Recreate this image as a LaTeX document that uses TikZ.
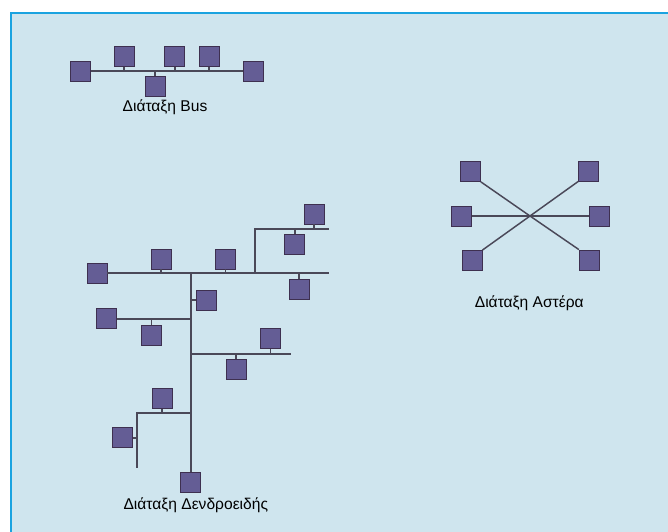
\documentclass[tikz,border=0pt]{standalone}
\usepackage{fontspec}
\setmainfont{Liberation Sans}
\definecolor{bg}{HTML}{CFE5EE}
\definecolor{frame}{HTML}{1AA3E0}
\definecolor{pcfill}{HTML}{645D95}
\definecolor{pcdraw}{HTML}{3E3050}
\definecolor{wire}{HTML}{4A4858}
\begin{document}
\begin{tikzpicture}[x=0.75pt,y=-0.75pt,
  pc/.style={rectangle,minimum size=15pt,inner sep=0pt,fill=pcfill,draw=pcdraw,line width=0.6pt},
  wireline/.style={draw=wire,line width=1.4pt},
  lbl/.style={font=\fontsize{11.7pt}{14pt}\selectfont,text=black}]
\useasboundingbox (0,0) rectangle (668,532);
\fill[bg] (10,12) rectangle (668,532);
\draw[frame,line width=1.9pt] (11,532) -- (11,13) -- (668,13);

% ---- Bus
\node[pc] (b1) at (80.7,71) {};
\node[pc] (b2) at (124,56.7) {};
\node[pc] (b3) at (155,86) {};
\node[pc] (b4) at (174.7,56.7) {};
\node[pc] (b5) at (209,56.7) {};
\node[pc] (b6) at (253,71) {};
\draw[wireline] (b1.east) -- (b6.west);
\foreach \n in {b2,b4,b5} \draw[wireline] (\n.south) -- (\n.south |- b1.east);
\draw[wireline] (b3.north) -- (b3.north |- b1.east);
\node[lbl] (lbus) at (165,107.7) {Διάταξη Bus};

% ---- Tree
\node[pc] (t1) at (97,273.3) {};
\node[pc] (tA) at (161,259) {};
\node[pc] (tB) at (225.5,259) {};
\node[pc] (tC) at (314.3,214) {};
\node[pc] (tD) at (294.7,244) {};
\node[pc] (tE) at (299.3,289) {};
\node[pc] (tF) at (206,300) {};
\node[pc] (tG) at (106.7,318.7) {};
\node[pc] (tH) at (151.5,335.3) {};
\node[pc] (tI) at (270.5,338.8) {};
\node[pc] (tJ) at (236.3,369.2) {};
\node[pc] (tK) at (162,398.7) {};
\node[pc] (tL) at (122.5,437.7) {};
\node[pc] (tBot) at (190.7,482) {};
\coordinate (mE) at (329.3,273.3);
\coordinate (uJ) at (255,273.3);
\coordinate (uC) at (255,229);
\coordinate (uE) at (329.3,229);
\coordinate (trT) at (190.7,273.3);
\coordinate (rJ) at (190.7,354.3);
\coordinate (rE) at (290.7,354.3);
\coordinate (lJ) at (190.7,413.3);
\coordinate (lC) at (137.3,413.3);
\coordinate (lB) at (137.3,468.3);
\draw[wireline] (t1.east) -- (mE);
\draw[wireline] (tA.south) -- (tA.south |- mE);
\draw[wireline] (tB.south) -- (tB.south |- mE);
\draw[wireline] (uJ) -- (uC) -- (uE);
\draw[wireline] (tC.south) -- (tC.south |- uE);
\draw[wireline] (tD.north) -- (tD.north |- uE);
\draw[wireline] (tE.north) -- (tE.north |- mE);
\draw[wireline] (trT) -- (tBot.north);
\draw[wireline] (tF.west) -- (tF.west -| trT);
\draw[wireline] (tG.east) -- (tG.east -| trT);
\draw[wireline] (tH.north) -- (tH.north |- tG.east);
\draw[wireline] (rJ) -- (rE);
\draw[wireline] (tI.south) -- (tI.south |- rE);
\draw[wireline] (tJ.north) -- (tJ.north |- rE);
\draw[wireline] (lJ) -- (lC) -- (lB);
\draw[wireline] (tK.south) -- (tK.south |- lC);
\draw[wireline] (tL.east) -- (tL.east -| lC);
\node[lbl] (ltree) at (195.8,505) {Διάταξη Δενδροειδής};

% ---- Star
\coordinate (sc) at (530,216);
\node[pc] (sTL) at (470.5,171.5) {};
\node[pc] (sML) at (461.3,216) {};
\node[pc] (sBL) at (472,260.5) {};
\node[pc] (sTR) at (588.7,171) {};
\node[pc] (sMR) at (599.5,216) {};
\node[pc] (sBR) at (589.3,260) {};
\draw[wire,line width=1.1pt] (sTL.south east) -- (sc) -- (sBR.north west);
\draw[wire,line width=1.1pt] (sTR.south west) -- (sc) -- (sBL.north east);
\draw[wire,line width=1.1pt] (sML.east) -- (sMR.west);
\node[lbl] (lstar) at (529.3,303.3) {Διάταξη Αστέρα};
\end{tikzpicture}
\end{document}
